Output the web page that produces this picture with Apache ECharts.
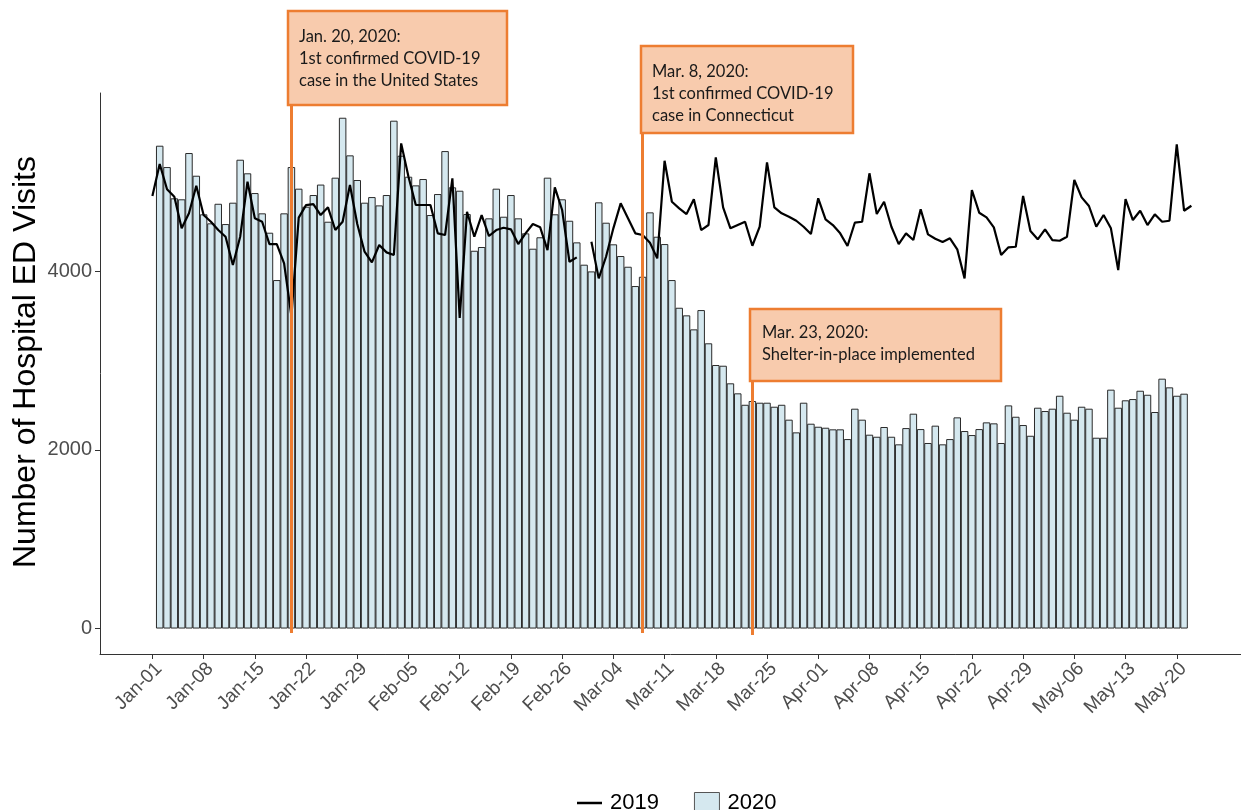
<!DOCTYPE html>
<html><head><meta charset="utf-8">
<script src="https://cdn.jsdelivr.net/npm/echarts@6/dist/echarts.min.js"></script>
<style>html,body{margin:0;padding:0;background:#fff}#c{width:1241px;height:810px}</style>
</head><body><div id="c"></div>
<script>
// ---------------- data ----------------
const seriesNames = ['2019', '2020'];
const yAxisTitle = 'Number of Hospital ED Visits';
const xTickLabels = ['Jan-01','Jan-08','Jan-15','Jan-22','Jan-29','Feb-05','Feb-12','Feb-19','Feb-26',
  'Mar-04','Mar-11','Mar-18','Mar-25','Apr-01','Apr-08','Apr-15','Apr-22','Apr-29','May-06','May-13','May-20'];
const yTickValues = [0, 2000, 4000];

// 2019 daily visits (line), first value at Jan-01
const line2019Start = 'Jan-01';
const line2019 = [4842,5200,4917,4834,4480,4648,4957,4629,4554,4461,4386,4069,4386,5002,4592,4554,4304,4304,4088,3498,
  4600,4740,4752,4629,4715,4461,4554,4965,4528,4218,4099,4293,4211,4181,5431,5058,4741,4741,4741,4424,
  4405,5039,3476,4666,4386,4629,4394,4461,4487,4469,4304,4424,4528,4491,4237,4939,4685,4106,4155,null,
  4330,3920,4162,4480,4760,4592,4424,4405,4319,4144,5237,4778,4704,4640,4805,4461,4517,5274,4715,4480,
  4517,4554,4285,4498,5219,4715,4648,4610,4565,4498,4416,4816,4581,4517,4424,4282,4543,4554,5096,4640,
  4778,4498,4304,4424,4349,4693,4413,4364,4327,4368,4245,3920,4909,4655,4603,4491,4181,4267,4274,4842,
  4450,4357,4469,4349,4341,4386,5021,4827,4730,4498,4629,4480,4013,4808,4573,4677,4517,4637,4554,4565,
  5420,4677,4733];

// 2020 daily visits (bars), first bar drawn at Jan-02 position
const bar2020Start = 'Jan-02';
const bar2020 = [5405,5166,4816,4805,5323,5069,4637,4536,4755,4528,4767,5248,5096,4875,4648,4431,3901,4648,5166,4924,
  4722,4853,4970,4554,5047,5718,5297,5021,4767,4830,4737,4853,5685,5293,5058,4961,5032,4629,4864,5345,
  4939,4901,4640,4229,4271,4592,4924,4610,4853,4592,4424,4252,4380,5047,4637,4805,4565,4323,4073,3998,
  4771,4543,4301,4170,4050,3834,3938,4659,4386,4304,3901,3591,3506,3349,3565,3193,2950,2942,2745,2633,
  2505,2547,2528,2528,2483,2505,2338,2196,2528,2293,2259,2248,2230,2230,2121,2461,2338,2170,2147,2256,
  2147,2062,2244,2405,2233,2077,2271,2062,2121,2364,2211,2166,2233,2308,2297,2077,2498,2371,2278,2158,
  2472,2435,2461,2606,2416,2338,2483,2461,2136,2136,2674,2472,2555,2569,2662,2617,2424,2797,2700,2606,
  2629];

const eventDates = ['Jan-20', 'Mar-08', 'Mar-23'];
const eventTexts = [
  ['Jan. 20, 2020:', '1st confirmed COVID-19', 'case in the United States'],
  ['Mar. 8, 2020:', '1st confirmed COVID-19', 'case in Connecticut'],
  ['Mar. 23, 2020:', 'Shelter-in-place implemented']
];

// ---------------- helpers ----------------
const monthStart = {Jan: 0, Feb: 31, Mar: 60, Apr: 91, May: 121};
function dayIndex(lbl) { const p = lbl.split('-'); return monthStart[p[0]] + Number(p[1]) - 1; }
const tickDays = xTickLabels.map(dayIndex);
const labelByDay = {};
xTickLabels.forEach((l, i) => { labelByDay[tickDays[i]] = l; });

const l0 = dayIndex(line2019Start);
const lineData = line2019.map((v, i) => [l0 + i, v == null ? '-' : v]);
const b0 = dayIndex(bar2020Start);
const barData = bar2020.map((v, i) => [b0 + i, v]);

// annotation styling (pixel layout of the boxes, value extents of the lines)
const boxes = [
  {x: 288, y: 11, w: 219, h: 94, tx: 11, ty: 15, top: 5916, bottom: -50},
  {x: 641, y: 46, w: 212, h: 87, tx: 11, ty: 15, top: 5580, bottom: -50},
  {x: 750, y: 309, w: 251, h: 72, tx: 12, ty: 13, top: 2838, bottom: -73}
];
const markLines = eventDates.map((d, i) => [
  {coord: [dayIndex(d), boxes[i].bottom]},
  {coord: [dayIndex(d), boxes[i].top]}
]);
const graphics = [];
boxes.forEach((b, i) => {
  graphics.push({type: 'rect', z: 100, shape: {x: b.x, y: b.y, width: b.w, height: b.h},
    style: {fill: '#F8CBAD', stroke: '#ED7D31', lineWidth: 2.5}});
  graphics.push({type: 'text', z: 101, x: b.x + b.tx, y: b.y + b.ty,
    style: {text: eventTexts[i].join('\n'), font: '16.5px Lato', fill: '#1a1a1a', lineHeight: 22}});
});
graphics.push({type: 'text', z: 50, x: 26, y: 362, rotation: Math.PI / 2,
  style: {text: yAxisTitle, font: '32px "Liberation Sans"', fill: '#000', align: 'center', verticalAlign: 'middle'}});

const chart = echarts.init(document.getElementById('c'), null, {renderer: 'canvas'});
chart.setOption({
  animation: false,
  backgroundColor: '#fff',
  grid: {left: 100, top: 93, width: 1141, height: 561, containLabel: false, outerBoundsMode: 'none'},
  legend: {
    top: 787, left: 572, itemWidth: 25, itemHeight: 21, itemGap: 35,
    textStyle: {fontFamily: 'Liberation Sans', fontSize: 22, color: '#000', padding: [0, 0, 0, 3]},
    data: [
      {name: seriesNames[0], icon: 'path://M0,0H22V2.2H0Z', itemStyle: {color: '#000'}},
      {name: seriesNames[1], icon: 'rect', itemStyle: {color: '#D5E8EF', borderColor: '#555', borderWidth: 1}}
    ]
  },
  xAxis: {
    type: 'value', min: -7.16, max: 148.78,
    splitLine: {show: false},
    axisLine: {onZero: false, lineStyle: {color: '#333', width: 1}},
    axisTick: {show: true, length: 5, customValues: tickDays, lineStyle: {color: '#333'}},
    axisLabel: {
      customValues: tickDays, rotate: 45, margin: 5, verticalAlign: 'top',
      fontFamily: 'Liberation Sans', fontSize: 19, color: '#4d4d4d',
      formatter: v => labelByDay[Math.round(v)] || ''
    }
  },
  yAxis: {
    type: 'value', min: -285, max: 5995,
    splitLine: {show: false},
    axisLine: {show: true, onZero: false, lineStyle: {color: '#333', width: 1}},
    axisTick: {show: true, length: 5, customValues: yTickValues, lineStyle: {color: '#333'}},
    axisLabel: {customValues: yTickValues, margin: 8, fontFamily: 'Liberation Sans', fontSize: 20, color: '#4d4d4d',
      formatter: v => String(v)}
  },
  series: [
    {
      name: seriesNames[1], type: 'bar', data: barData, barWidth: 7.5, z: 2,
      itemStyle: {color: '#D5E8EF', borderColor: '#2a2a2a', borderWidth: 1}
    },
    {
      name: seriesNames[0], type: 'line', data: lineData, symbol: 'none', showSymbol: false, z: 3,
      connectNulls: false,
      lineStyle: {color: '#000', width: 2.2},
      itemStyle: {color: '#000'},
      markLine: {
        silent: true, symbol: 'none', label: {show: false}, animation: false,
        lineStyle: {color: '#ED7D31', width: 3, type: 'solid'},
        data: markLines
      }
    }
  ],
  graphic: graphics
});
</script>
</body></html>
